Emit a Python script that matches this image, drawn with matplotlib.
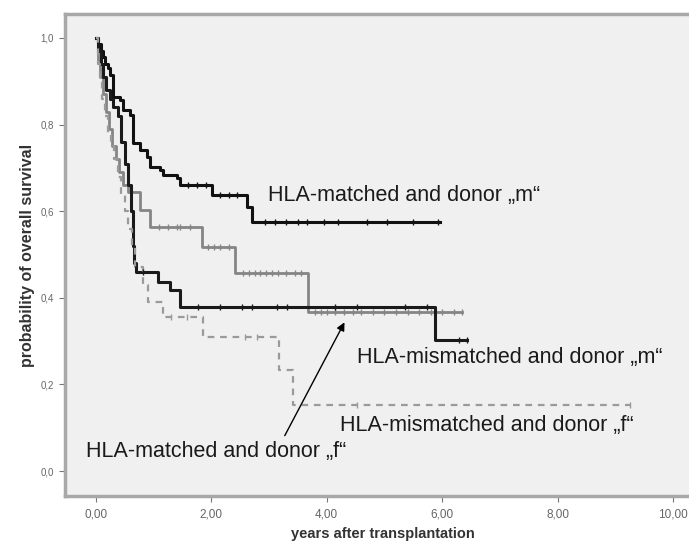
import numpy as np
import matplotlib
matplotlib.use("Agg")
import matplotlib.pyplot as plt

plt.rcParams['font.family'] = ['Liberation Sans', 'DejaVu Sans']

# Kaplan-Meier courbes (temps en années, survie)
A_t = [0, 0.04, 0.08, 0.12, 0.16, 0.20, 0.24, 0.29, 0.42, 0.47, 0.59, 0.64, 0.76, 0.88, 0.94,
       1.11, 1.16, 1.40, 1.46, 2.01, 2.62, 2.70]
A_v = [1.0, 0.985, 0.97, 0.955, 0.94, 0.93, 0.915, 0.864, 0.857, 0.834, 0.822, 0.758, 0.741, 0.725, 0.702,
       0.695, 0.684, 0.677, 0.661, 0.638, 0.610, 0.575]
A_end = 5.96
A_cens = [1.6, 1.75, 1.9, 2.15, 2.3, 2.45, 2.93, 3.1, 3.3, 3.5, 3.65, 3.95, 4.2, 4.7, 5.05, 5.5, 5.93]

B_t = [0, 0.03, 0.07, 0.12, 0.17, 0.22, 0.28, 0.34, 0.40, 0.46, 0.55, 0.76, 0.94, 1.84, 2.41, 3.67]
B_v = [1.0, 0.95, 0.91, 0.87, 0.83, 0.79, 0.75, 0.72, 0.69, 0.66, 0.644, 0.603, 0.563, 0.517, 0.457, 0.367]
B_end = 6.35
B_cens = [1.1, 1.25, 1.4, 1.46, 1.63, 1.95, 2.05, 2.15, 2.3, 2.55, 2.65, 2.75, 2.85, 2.95, 3.05, 3.15,
          3.3, 3.45, 3.55, 3.8, 3.9, 4.0, 4.15, 4.3, 4.45, 4.6, 4.8, 5.0, 5.2, 5.4, 5.6, 5.8, 6.0, 6.2, 6.35]

C_t = [0, 0.03, 0.08, 0.13, 0.18, 0.24, 0.30, 0.38, 0.44, 0.50, 0.55, 0.60, 0.64, 0.66, 0.70,
       1.07, 1.28, 1.46, 5.88]
C_v = [1.0, 0.97, 0.94, 0.91, 0.88, 0.86, 0.84, 0.82, 0.76, 0.71, 0.66, 0.60, 0.52, 0.48, 0.46,
       0.436, 0.418, 0.379, 0.303]
C_end = 6.43
C_cens = [0.82, 1.77, 2.15, 2.53, 2.7, 3.14, 3.31, 4.14, 4.52, 5.36, 5.74, 6.3, 6.43]

D_t = [0, 0.03, 0.07, 0.11, 0.15, 0.2, 0.26, 0.32, 0.38, 0.44, 0.5, 0.56, 0.62, 0.68, 0.81, 0.9,
       1.16, 1.85, 3.17, 3.41]
D_v = [1.0, 0.94, 0.90, 0.86, 0.82, 0.78, 0.75, 0.72, 0.68, 0.64, 0.60, 0.56, 0.52, 0.47, 0.43, 0.39,
       0.356, 0.309, 0.233, 0.152]
D_end = 9.25
D_cens = [1.3, 1.58, 2.58, 2.79, 4.52, 9.25]

x_ticks = [0, 2, 4, 6, 8, 10]
x_labels = ["0,00", "2,00", "4,00", "6,00", "8,00", "10,00"]
y_ticks = [0.0, 0.2, 0.4, 0.6, 0.8, 1.0]
y_labels = ["0,0", "0,2", "0,4", "0,6", "0,8", "1,0"]


def level(ts, vs, times):
    idx = np.searchsorted(np.array(ts), np.array(times), side="right") - 1
    return np.array(vs)[idx]


fig = plt.figure(figsize=(6.89, 5.42), dpi=100)
ax = fig.add_axes([65 / 689, 46 / 542, 635 / 689, 482 / 542])
ax.set_facecolor("#f0f0f0")

curves = [
    (A_t, A_v, A_end, A_cens, dict(color="#111111", lw=2.2, ls="-")),
    (B_t, B_v, B_end, B_cens, dict(color="#858585", lw=2.0, ls="-")),
    (C_t, C_v, C_end, C_cens, dict(color="#1a1a1a", lw=2.2, ls="-")),
    (D_t, D_v, D_end, D_cens, dict(color="#9a9a9a", lw=1.6, ls=(0, (3, 2.6)))),
]
for ts, vs, end, cens, st in curves:
    ax.step(list(ts) + [end], list(vs) + [vs[-1]], where="post", zorder=3, **st)
    ax.plot(cens, level(ts, vs, cens), ls="none", marker="|", ms=5, mew=1.0,
            color=st["color"], zorder=4)

ax.set_xlim(-0.537, 10.47)
ax.set_ylim(-0.0577, 1.0554)
ax.set_xticks(x_ticks)
ax.set_xticklabels(x_labels)
ax.set_yticks(y_ticks)
ax.set_yticklabels(y_labels)
ax.tick_params(direction="out", length=4, width=0.8, color="#777777",
               labelcolor="#666666")
ax.tick_params(axis="x", labelsize=8.5, pad=5)
ax.tick_params(axis="y", labelsize=7, pad=4)

for side in ["left", "top", "bottom"]:
    ax.spines[side].set_color("#a8a8a8")
    ax.spines[side].set_linewidth(2.5)
ax.spines["right"].set_visible(False)

ax.set_xlabel("years after transplantation", fontsize=10.5, fontweight="bold", color="#333333", labelpad=4.5)
ax.set_ylabel("probability of overall survival", fontsize=11.5, fontweight="bold", color="#333333", labelpad=4)

txt = dict(fontsize=15.5, color="#1a1a1a", va="center", ha="left")
ax.text(2.98, 0.636, "HLA-matched and donor \u201em\u201c", **txt)
ax.text(4.53, 0.263, "HLA-mismatched and donor \u201em\u201c", **txt)
ax.text(4.23, 0.106, "HLA-mismatched and donor \u201ef\u201c", **txt)
ax.text(-0.17, 0.044, "HLA-matched and donor \u201ef\u201c", **txt)

ax.annotate("", xy=(4.33, 0.349), xytext=(3.25, 0.076),
            arrowprops=dict(arrowstyle="-|>", color="black", lw=1.0, mutation_scale=12))

fig.savefig("out.png", dpi=100)
